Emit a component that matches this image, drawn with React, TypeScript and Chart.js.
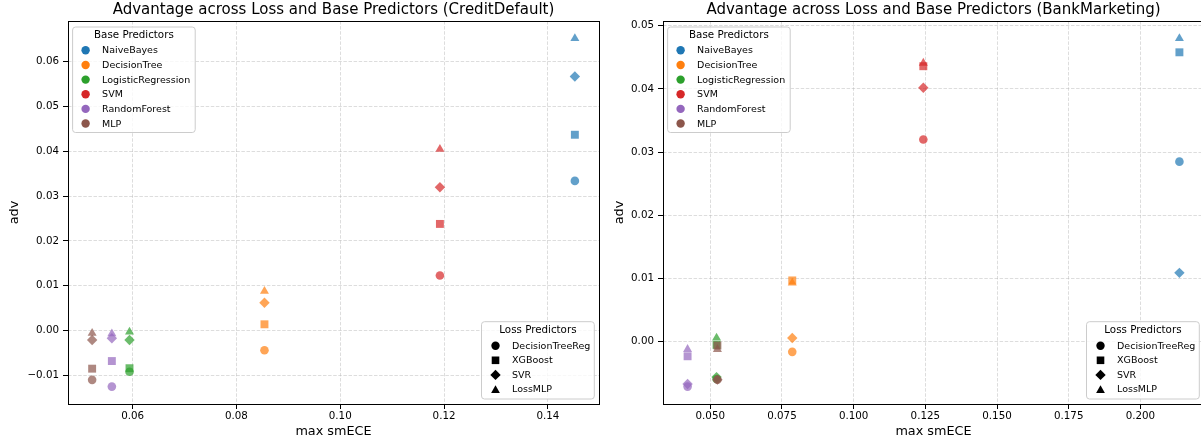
import React, { useEffect, useRef } from "react";
import { Chart, registerables } from "chart.js";

Chart.register(...registerables);

// ---------------- data ----------------
const basePredictors = ["NaiveBayes", "DecisionTree", "LogisticRegression", "SVM", "RandomForest", "MLP"];
const lossPredictors = ["DecisionTreeReg", "XGBoost", "SVR", "LossMLP"];

// CreditDefault: max smECE per base predictor
const creditMaxSmECE = [0.1452, 0.0854, 0.0594, 0.1192, 0.056, 0.0522];
// adv per base predictor, ordered as lossPredictors
const creditNaiveBayes = [0.0334, 0.0437, 0.0567, 0.0652];
const creditDecisionTree = [-0.0044, 0.0014, 0.0062, 0.0088];
const creditLogisticRegression = [-0.0092, -0.0084, -0.0021, -0.0003];
const creditSVM = [0.0123, 0.0238, 0.032, 0.0405];
const creditRandomForest = [-0.0125, -0.0068, -0.0017, -0.0007];
const creditMLP = [-0.011, -0.0085, -0.0021, -0.0006];

// BankMarketing
const bankMaxSmECE = [0.2136, 0.0786, 0.0522, 0.1243, 0.0421, 0.0525];
const bankNaiveBayes = [0.0285, 0.0458, 0.0109, 0.048];
const bankDecisionTree = [-0.0016, 0.0097, 0.0006, 0.0093];
const bankLogisticRegression = [-0.0059, -0.0005, -0.0056, 0.0006];
const bankSVM = [0.032, 0.0436, 0.0402, 0.0441];
const bankRandomForest = [-0.0071, -0.0023, -0.0067, -0.0012];
const bankMLP = [-0.006, -0.0006, -0.006, -0.0012];

const creditXTicks = [0.06, 0.08, 0.1, 0.12, 0.14];
const creditYTicks = [-0.01, 0.0, 0.01, 0.02, 0.03, 0.04, 0.05, 0.06];
const bankXTicks = [0.05, 0.075, 0.1, 0.125, 0.15, 0.175, 0.2];
const bankYTicks = [0.0, 0.01, 0.02, 0.03, 0.04, 0.05];

const creditAdv = [creditNaiveBayes, creditDecisionTree, creditLogisticRegression, creditSVM, creditRandomForest, creditMLP];
const bankAdv = [bankNaiveBayes, bankDecisionTree, bankLogisticRegression, bankSVM, bankRandomForest, bankMLP];

// ---------------- style ----------------
const FONT = '"DejaVu Sans", "Liberation Sans", sans-serif';
const baseColors = ["31,119,180", "255,127,14", "44,160,44", "214,39,40", "148,103,189", "140,86,75"];
const lossStyles = ["circle", "rect", "rectRot", "triangle"];
const lossRadii = [4.3, 5.6, 5.2, 5.2];
const GRID = "rgba(176,176,176,0.55)";
const LEG_FONT = 9.5;

function limits(vals: number[]): [number, number] {
  const lo = Math.min(...vals);
  const hi = Math.max(...vals);
  const m = (hi - lo) * 0.05;
  return [lo - m, hi + m];
}

function drawMarker(ctx: CanvasRenderingContext2D, style: string, x: number, y: number, color: string) {
  ctx.fillStyle = color;
  ctx.beginPath();
  if (style === "circle") {
    ctx.arc(x, y, 4.2, 0, Math.PI * 2);
  } else if (style === "rect") {
    ctx.rect(x - 3.8, y - 3.8, 7.6, 7.6);
  } else if (style === "rectRot") {
    const r = 5.2;
    ctx.moveTo(x - r, y);
    ctx.lineTo(x, y - r);
    ctx.lineTo(x + r, y);
    ctx.lineTo(x, y + r);
    ctx.closePath();
  } else {
    const w = 4.4;
    ctx.moveTo(x, y - 4.2);
    ctx.lineTo(x + w, y + 3.6);
    ctx.lineTo(x - w, y + 3.6);
    ctx.closePath();
  }
  ctx.fill();
}

function roundBox(ctx: CanvasRenderingContext2D, x: number, y: number, w: number, h: number, r: number) {
  ctx.beginPath();
  ctx.moveTo(x + r, y);
  ctx.lineTo(x + w - r, y);
  ctx.quadraticCurveTo(x + w, y, x + w, y + r);
  ctx.lineTo(x + w, y + h - r);
  ctx.quadraticCurveTo(x + w, y + h, x + w - r, y + h);
  ctx.lineTo(x + r, y + h);
  ctx.quadraticCurveTo(x, y + h, x, y + h - r);
  ctx.lineTo(x, y + r);
  ctx.quadraticCurveTo(x, y, x + r, y);
  ctx.closePath();
  ctx.fillStyle = "rgba(255,255,255,0.8)";
  ctx.fill();
  ctx.strokeStyle = "#cccccc";
  ctx.lineWidth = 1;
  ctx.stroke();
}

function decorPlugin(title: string, yLabelX: number) {
  return {
    id: "decor",
    afterDraw(chart: any) {
      const ctx: CanvasRenderingContext2D = chart.ctx;
      const a = chart.chartArea;
      ctx.save();
      ctx.setLineDash([]);
      // frame
      ctx.strokeStyle = "#000";
      ctx.lineWidth = 1;
      ctx.strokeRect(Math.round(a.left) + 0.5, Math.round(a.top) + 0.5, Math.round(a.right - a.left), Math.round(a.bottom - a.top));
      // title
      ctx.fillStyle = "#000";
      ctx.textAlign = "center";
      ctx.textBaseline = "middle";
      ctx.font = `15px ${FONT}`;
      ctx.fillText(title, (a.left + a.right) / 2, 10.5);
      // x label
      ctx.font = `12.8px ${FONT}`;
      ctx.fillText("max smECE", (a.left + a.right) / 2, 432);
      // y label
      ctx.save();
      ctx.translate(yLabelX, (a.top + a.bottom) / 2);
      ctx.rotate(-Math.PI / 2);
      ctx.fillText("adv", 0, 0);
      ctx.restore();

      // base predictors legend (upper left)
      ctx.font = `${LEG_FONT}px ${FONT}`;
      let maxW = 0;
      basePredictors.forEach((n) => (maxW = Math.max(maxW, ctx.measureText(n).width)));
      const bL = a.left + 4.6;
      const bT = a.top + 6;
      const bW = 29.5 + maxW + 5;
      const bH = 105.5;
      roundBox(ctx, bL, bT, bW, bH, 3);
      ctx.fillStyle = "#000";
      ctx.font = `10.3px ${FONT}`;
      ctx.textAlign = "center";
      ctx.fillText("Base Predictors", bL + bW / 2, bT + 8.7);
      ctx.font = `${LEG_FONT}px ${FONT}`;
      ctx.textAlign = "left";
      basePredictors.forEach((n, i) => {
        const y = bT + 23.3 + i * 14.65;
        drawMarker(ctx, "circle", bL + 13, y, `rgb(${baseColors[i]})`);
        ctx.fillStyle = "#000";
        ctx.fillText(n, bL + 29.5, y + 0.5);
      });

      // loss predictors legend (lower right)
      let maxL = 0;
      lossPredictors.forEach((n) => (maxL = Math.max(maxL, ctx.measureText(n).width)));
      const lW = 30.5 + maxL + 4;
      const lH = 77.3;
      const lR = a.right - 4.7;
      const lB = a.bottom - 5;
      const lL = lR - lW;
      const lT = lB - lH;
      roundBox(ctx, lL, lT, lW, lH, 3);
      ctx.fillStyle = "#000";
      ctx.font = `10.3px ${FONT}`;
      ctx.textAlign = "center";
      ctx.fillText("Loss Predictors", lL + lW / 2, lT + 8.5);
      ctx.font = `${LEG_FONT}px ${FONT}`;
      ctx.textAlign = "left";
      lossPredictors.forEach((n, i) => {
        const y = lT + 24 + i * 14.6;
        drawMarker(ctx, lossStyles[i], lL + 14, y, "#000");
        ctx.fillStyle = "#000";
        ctx.fillText(n, lL + 30.5, y + 0.5);
      });
      ctx.restore();
    },
  };
}

function makeConfig(opts: {
  xs: number[];
  adv: number[][];
  xTicks: number[];
  yTicks: number[];
  xDec: number;
  yDec: number;
  yAxisWidth: number;
  padRight: number;
  title: string;
  yLabelX: number;
}): any {
  const allY = opts.adv.flat();
  const [xMin, xMax] = limits(opts.xs);
  const [yMin, yMax] = limits(allY);
  const datasets = basePredictors.map((name, i) => ({
    label: name,
    data: opts.adv[i].map((v, j) => ({ x: opts.xs[i], y: v, loss: lossPredictors[j] })),
    pointStyle: lossStyles,
    pointRadius: lossRadii,
    backgroundColor: `rgba(${baseColors[i]},0.7)`,
    borderColor: `rgba(${baseColors[i]},0.7)`,
    borderWidth: 0,
    showLine: false,
    order: basePredictors.length - i,
  }));
  const fmt = (v: number, d: number) => v.toFixed(d).replace("-", "\u2212");
  return {
    type: "scatter",
    data: { datasets },
    options: {
      animation: false,
      responsive: false,
      maintainAspectRatio: false,
      events: [],
      layout: { autoPadding: false, padding: { top: 21, left: 0, right: opts.padRight, bottom: 0 } },
      plugins: { legend: { display: false }, tooltip: { enabled: false }, title: { display: false } },
      scales: {
        x: {
          type: "linear",
          min: xMin,
          max: xMax,
          afterBuildTicks: (s: any) => {
            s.ticks = opts.xTicks.map((v) => ({ value: v }));
          },
          afterFit: (s: any) => {
            s.height = 40;
            s.paddingLeft = 0;
            s.paddingRight = 0;
          },
          grid: { color: GRID, lineWidth: 0.8, tickLength: 5, tickColor: "#000", tickWidth: 1, tickBorderDash: [] },
          border: { display: false, dash: [3.5, 1.6] },
          ticks: {
            autoSkip: false,
            maxRotation: 0,
            minRotation: 0,
            padding: 1,
            color: "#000",
            font: { family: FONT, size: 10.3 },
            callback: (v: number) => fmt(v, opts.xDec),
          },
        },
        y: {
          type: "linear",
          min: yMin,
          max: yMax,
          afterBuildTicks: (s: any) => {
            s.ticks = opts.yTicks.map((v) => ({ value: v }));
          },
          afterFit: (s: any) => {
            s.width = opts.yAxisWidth;
            s.paddingTop = 0;
            s.paddingBottom = 0;
          },
          grid: { color: GRID, lineWidth: 0.8, tickLength: 5, tickColor: "#000", tickWidth: 1, tickBorderDash: [] },
          border: { display: false, dash: [3.5, 1.6] },
          ticks: {
            autoSkip: false,
            padding: 4,
            color: "#000",
            font: { family: FONT, size: 10.3 },
            callback: (v: number) => fmt(v, opts.yDec),
          },
        },
      },
    },
    plugins: [decorPlugin(opts.title, opts.yLabelX)],
  };
}

export default function App() {
  const leftRef = useRef<HTMLCanvasElement>(null);
  const rightRef = useRef<HTMLCanvasElement>(null);

  useEffect(() => {
    const c1 = new Chart(
      leftRef.current as HTMLCanvasElement,
      makeConfig({
        xs: creditMaxSmECE,
        adv: creditAdv,
        xTicks: creditXTicks,
        yTicks: creditYTicks,
        xDec: 2,
        yDec: 2,
        yAxisWidth: 68,
        padRight: 1,
        title: "Advantage across Loss and Base Predictors (CreditDefault)",
        yLabelX: 15,
      })
    );
    const c2 = new Chart(
      rightRef.current as HTMLCanvasElement,
      makeConfig({
        xs: bankMaxSmECE,
        adv: bankAdv,
        xTicks: bankXTicks,
        yTicks: bankYTicks,
        xDec: 3,
        yDec: 2,
        yAxisWidth: 63,
        padRight: 6,
        title: "Advantage across Loss and Base Predictors (BankMarketing)",
        yLabelX: 20,
      })
    );
    return () => {
      c1.destroy();
      c2.destroy();
    };
  }, []);

  return (
    <div
      style={{
        position: "fixed",
        left: 0,
        top: 0,
        width: 1201,
        height: 444,
        overflow: "hidden",
        background: "#fff",
      }}
    >
      <canvas ref={leftRef} width={600} height={444} style={{ position: "absolute", left: 0, top: 0 }} />
      <canvas ref={rightRef} width={610} height={444} style={{ position: "absolute", left: 600, top: 0 }} />
    </div>
  );
}
